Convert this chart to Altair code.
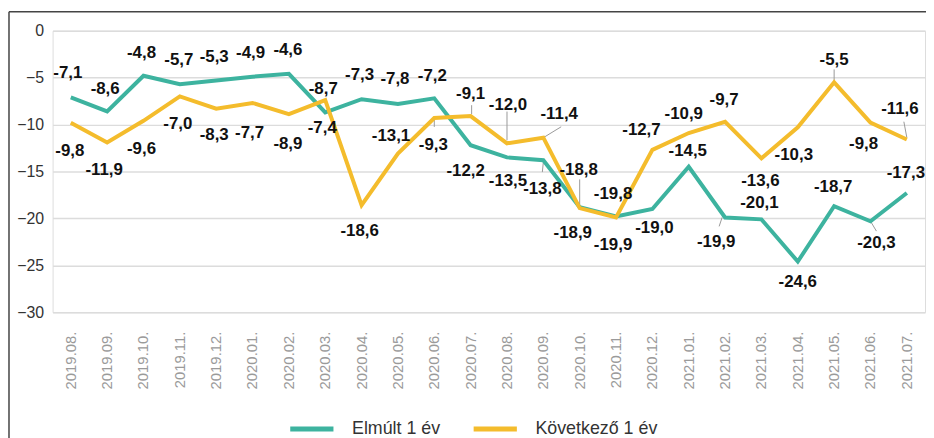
import altair as alt
import pandas as pd

months = ["2019.08.", "2019.09.", "2019.10.", "2019.11.", "2019.12.",
          "2020.01.", "2020.02.", "2020.03.", "2020.04.", "2020.05.",
          "2020.06.", "2020.07.", "2020.08.", "2020.09.", "2020.10.",
          "2020.11.", "2020.12.", "2021.01.", "2021.02.", "2021.03.",
          "2021.04.", "2021.05.", "2021.06.", "2021.07."]

elmult = [-7.1, -8.6, -4.8, -5.7, -5.3, -4.9, -4.6, -8.7, -7.3, -7.8,
          -7.2, -12.2, -13.5, -13.8, -18.8, -19.8, -19.0, -14.5, -19.9, -20.1,
          -24.6, -18.7, -20.3, -17.3]

kovetkezo = [-9.8, -11.9, -9.6, -7.0, -8.3, -7.7, -8.9, -7.4, -18.6, -13.1,
             -9.3, -9.1, -12.0, -11.4, -18.9, -19.9, -12.7, -10.9, -9.7, -13.6,
             -10.3, -5.5, -9.8, -11.6]

series_names = ["Elmúlt 1 év", "Következő 1 év"]
series_colors = ["#3db39f", "#f4bc2c"]

# label placement (pixel offsets from the point)
elmult_dx = [-3, -2, -2, -1, -2, -2, -1, -2, -2, -3, -2, -5, 1, -1, -1, -3, 2, -1, -9, -2, 0, -1, 6, -1]
elmult_dy = [-24, -23, -23, -24, -24, -24, -24, -24, -24, -25, -22, 26, 24, 29, -37, -23, 19, -16, 25, -16, 21, -19, 22, -20]
kov_dx = [-1, -3, -2, -2, -2, -3, -1, -3, -2, -7, -1, 0, 1, 16, -7, -3, -11, -5, -1, -1, -4, 0, -7, -7]
kov_dy = [29, 28, 28, 28, 27, 30, 30, 28, 26, -18, 27, -22, -39, -24, 25, 28, -20, -19, -22, 23, 28, -22, 22, -31]

# leader lines: (series index, month index, start dx, start dy, end dx, end dy)
leaders = [
    (0, 13, 0, 2, -1, 12),
    (0, 14, 0, -2, 0, -28),
    (0, 18, -3, 0, -6, 9),
    (0, 22, 0, 0, 6, 10),
    (1, 10, 0, 0, 0, 9),
    (1, 11, 1, -2, 1, -11),
    (1, 12, 0, -3, 0, -32),
    (1, 13, 0, 0, 18, -11),
    (1, 21, 0, -1, 0, -13),
    (1, 23, 0, -2, -3, -18),
]

rows = []
for vals, name, dxs, dys in [(elmult, series_names[0], elmult_dx, elmult_dy),
                             (kovetkezo, series_names[1], kov_dx, kov_dy)]:
    for m, v, dx, dy in zip(months, vals, dxs, dys):
        rows.append({"month": m, "value": v, "series": name,
                     "label": f"{v:.1f}".replace(".", ","), "ldx": dx, "ldy": dy})
df = pd.DataFrame(rows)

lead_rows = []
all_vals = [elmult, kovetkezo]
for s, i, sx, sy, ex, ey in leaders:
    lead_rows.append({"month": months[i], "value": all_vals[s][i],
                      "sx": sx, "sy": sy, "ex": ex, "ey": ey})
lead_df = pd.DataFrame(lead_rows)

FONT = "Liberation Sans"

x_enc = alt.X("month:N", sort=months,
              axis=alt.Axis(title=None, labelAngle=270, labelColor="#9a9a9a",
                            labelFontSize=15, labelFont=FONT, labelPadding=19,
                            ticks=False, domain=False, grid=False))
y_enc = alt.Y("value:Q", scale=alt.Scale(domain=[-30, 0], nice=False),
              axis=alt.Axis(title=None, values=[0, -5, -10, -15, -20, -25, -30],
                            labelColor="#333333", labelFontSize=16, labelFont=FONT,
                            labelPadding=9, ticks=False, domain=False,
                            gridColor="#dcdcdc", gridWidth=1.5))

lines = alt.Chart(df).mark_line(strokeWidth=4, strokeJoin="miter").encode(
    x=x_enc,
    y=y_enc,
    color=alt.Color("series:N",
                    scale=alt.Scale(domain=series_names, range=series_colors),
                    legend=alt.Legend(title=None, orient="none", legendX=237, legendY=377,
                                      direction="horizontal", symbolType="stroke",
                                      symbolSize=1900, symbolStrokeWidth=5,
                                      labelFontSize=18, labelFont=FONT, labelColor="#333333",
                                      labelOffset=16, columnPadding=22, padding=0)),
    order=alt.value(0),
)

leader_rules = alt.Chart(lead_df).mark_rule(
    color="#999999", strokeWidth=1,
    xOffset=alt.expr("datum.sx"), yOffset=alt.expr("datum.sy"),
    x2Offset=alt.expr("datum.ex"), y2Offset=alt.expr("datum.ey"),
).encode(
    x=alt.X("month:N", sort=months),
    x2=alt.X2("month"),
    y=alt.Y("value:Q"),
    y2=alt.Y2("value"),
)

labels = alt.Chart(df).mark_text(
    font=FONT, fontSize=17, fontWeight="bold", color="#111111",
    align="center", baseline="middle",
    dx=alt.expr("datum.ldx"), dy=alt.expr("datum.ldy"),
).encode(
    x=alt.X("month:N", sort=months),
    y=alt.Y("value:Q"),
    text="label:N",
)

frame_data = alt.Data(values=[{"k": 1}])
frame_left = alt.Chart(frame_data).mark_rule(color="#444444", strokeWidth=1.5).encode(
    x=alt.value(-44), y=alt.value(-19), y2=alt.value(430))
frame_top = alt.Chart(frame_data).mark_rule(color="#444444", strokeWidth=1.5).encode(
    x=alt.value(-44), x2=alt.value(885), y=alt.value(-19))

chart = alt.layer(leader_rules, lines, labels, frame_left, frame_top).properties(
    width=880, height=284,
    autosize=alt.AutoSizeParams(type="none"),
    padding={"left": 45, "top": 21, "right": 1, "bottom": 130},
).configure_view(stroke=None).configure(background="white")

chart.save("out.html", embed_options={"renderer": "svg", "actions": False})
